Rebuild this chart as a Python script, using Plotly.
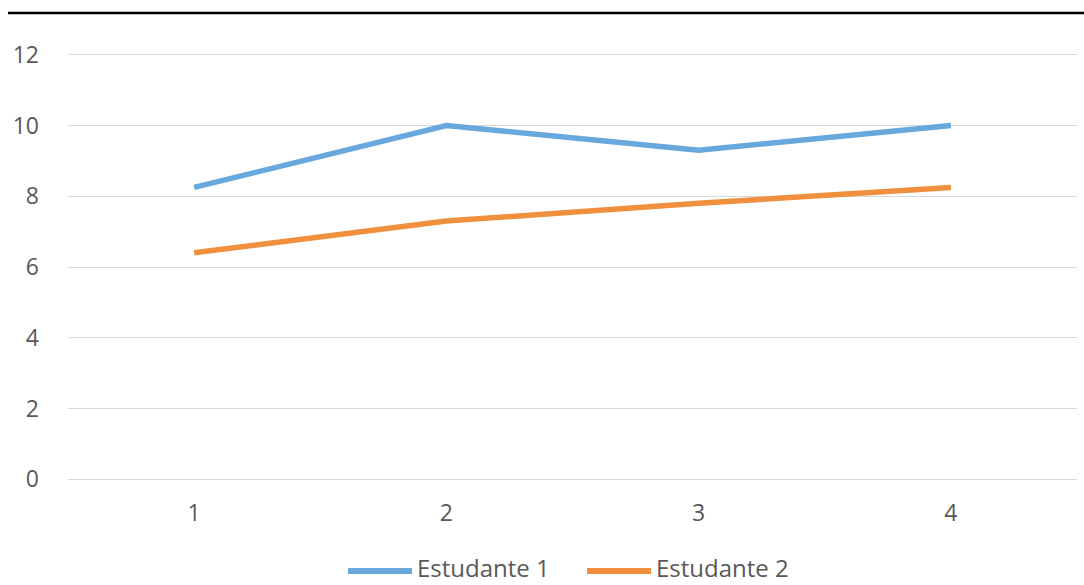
import plotly.graph_objects as go

# Data
avaliacoes = [1, 2, 3, 4]
estudante_1 = [8.25, 10, 9.3, 10]
estudante_2 = [6.4, 7.3, 7.8, 8.25]
serie_nomes = ["Estudante 1", "Estudante 2"]
cores = ["#68A8DC", "#F0903E"]
y_ticks = [0, 2, 4, 6, 8, 10, 12]

W, H = 1084, 585
L, R, T, B = 68, 7, 53, 104
FONT = dict(family="Open Sans", size=23, color="#595959")
LEG_FONT = dict(family="Open Sans", size=24, color="#595959")

fig = go.Figure()
for nome, vals, cor in zip(serie_nomes, [estudante_1, estudante_2], cores):
    fig.add_trace(go.Scatter(
        x=avaliacoes, y=vals, mode="lines", name=nome,
        line=dict(color=cor, width=5.5), showlegend=False,
    ))

# paper-coordinate helpers
def px_x(px):
    return (px - L) / (W - L - R)

def px_y(py):
    return (H - B - py) / (H - B - T)

shapes = [
    # rule across the top of the figure
    dict(type="line", xref="paper", yref="paper",
         x0=px_x(8), x1=px_x(1084), y0=px_y(13), y1=px_y(13),
         line=dict(color="black", width=2.5)),
]
annotations = []

# legend drawn as swatches + labels
legend_items = [(348, 412, 416), (587, 651, 655)]
for (sx0, sx1, tx), nome, cor in zip(legend_items, serie_nomes, cores):
    shapes.append(dict(type="line", xref="paper", yref="paper",
                       x0=px_x(sx0), x1=px_x(sx1), y0=px_y(571), y1=px_y(571),
                       line=dict(color=cor, width=6)))
    annotations.append(dict(xref="paper", yref="paper", x=px_x(tx), y=px_y(585),
                            text=nome, showarrow=False, xanchor="left",
                            yanchor="bottom", borderpad=0, font=LEG_FONT))

fig.update_layout(
    width=W, height=H,
    margin=dict(l=L, r=R, t=T, b=B),
    paper_bgcolor="white", plot_bgcolor="white",
    font=FONT,
    shapes=shapes, annotations=annotations,
    showlegend=False,
)
fig.update_xaxes(
    range=[0.5, 4.5], tickvals=avaliacoes, ticktext=[str(a) for a in avaliacoes],
    showgrid=False, zeroline=False, showline=False, ticks="",
    ticklabelstandoff=16, tickfont=FONT,
)
fig.update_yaxes(
    range=[-0.05, 12.05], tickvals=y_ticks,
    showgrid=True, gridcolor="#D9D9D9", gridwidth=1.3,
    zeroline=False, showline=False, ticks="",
    ticklabelstandoff=28, tickfont=FONT,
)

fig.write_html("out.html")
